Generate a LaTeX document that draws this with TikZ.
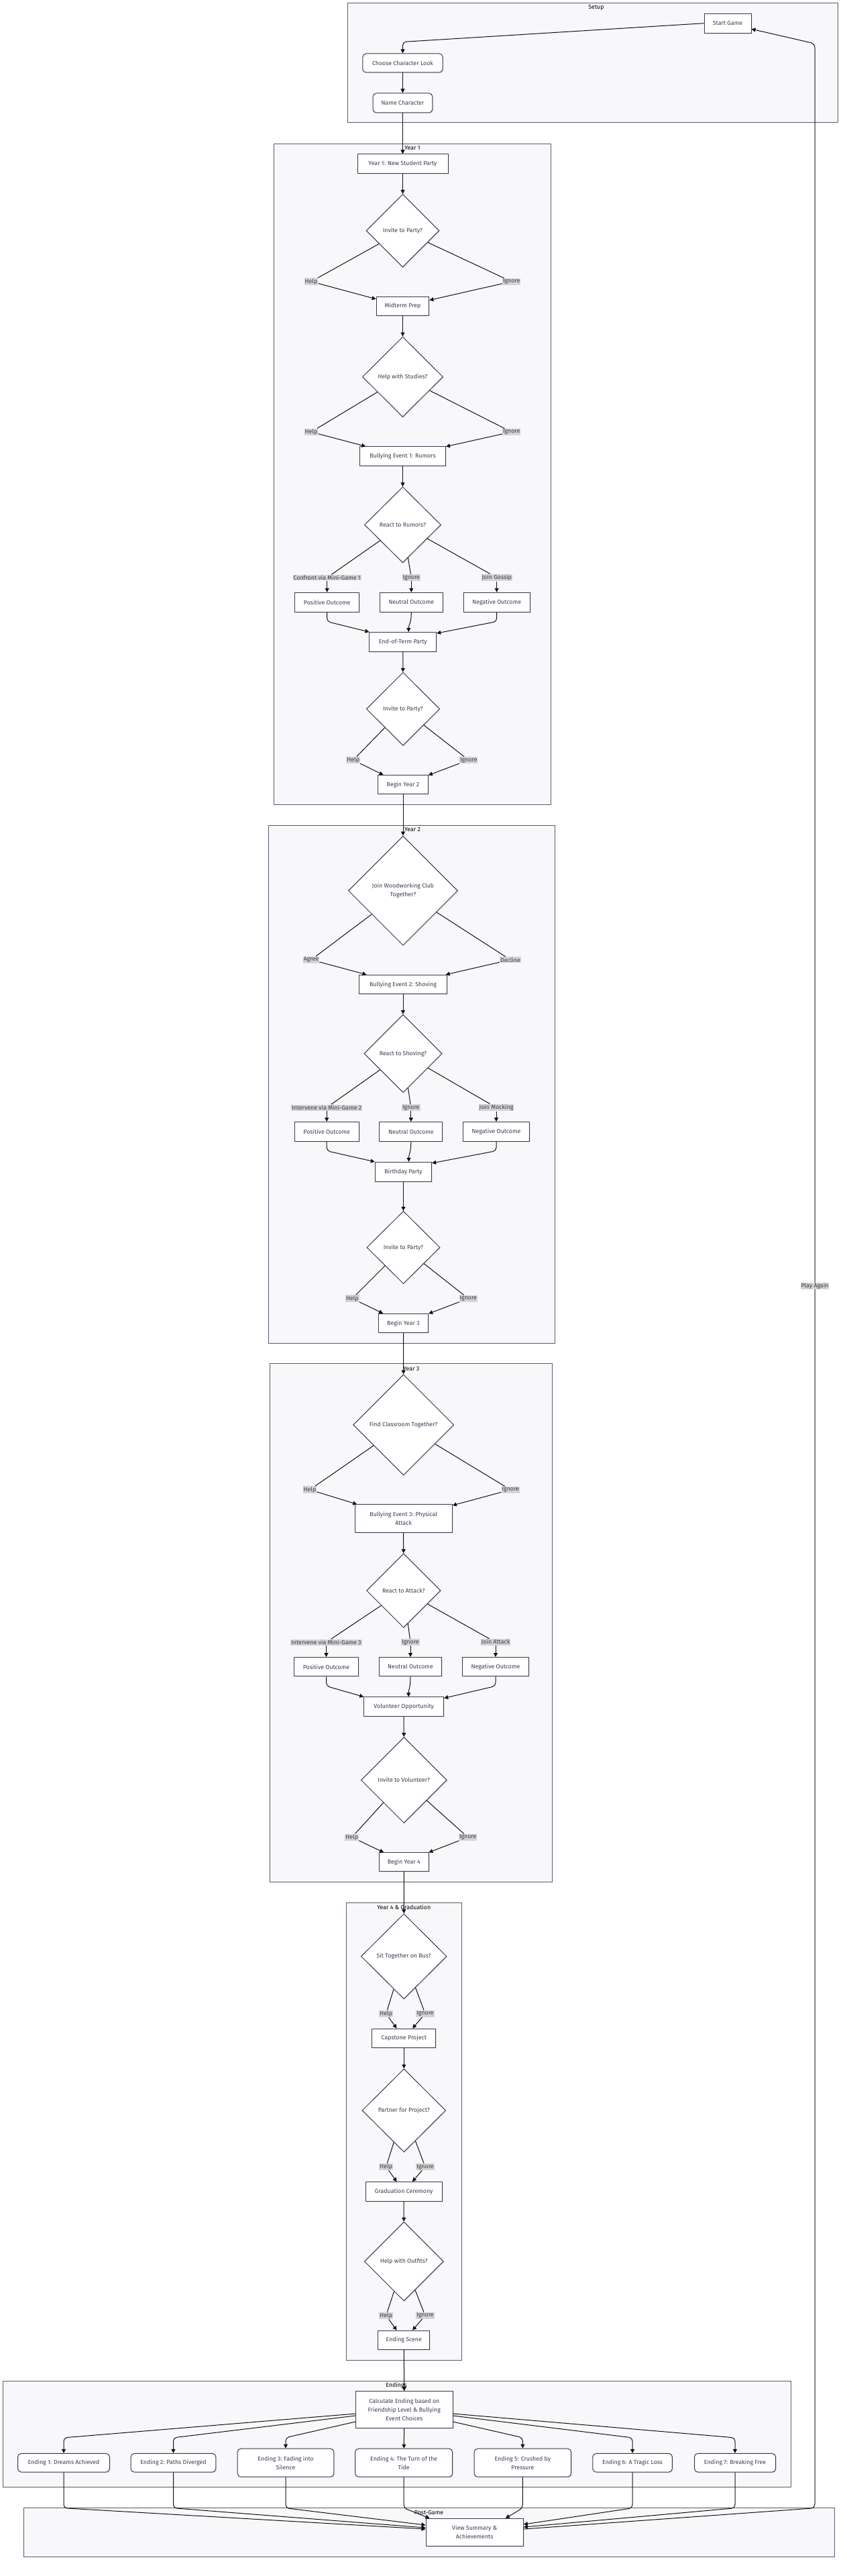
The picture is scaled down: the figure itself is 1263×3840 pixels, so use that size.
\documentclass[tikz,border=0pt]{standalone}
\usepackage{fontspec}
\setmainfont{Fira Sans}
\usetikzlibrary{shapes.geometric,arrows.meta,shadows}
\definecolor{grpfill}{HTML}{F8F8FA}
\definecolor{grpline}{HTML}{5A5A6E}
\definecolor{nline}{HTML}{3A3A4E}
\definecolor{ntext}{HTML}{3A3A4E}
\definecolor{lblbg}{HTML}{D4D4D4}
\definecolor{edgec}{HTML}{111111}
\newcommand\nfnt{\fontsize{8.8}{13}\selectfont}
\tikzset{
 box/.style={draw=nline, fill=white, line width=1pt, text=ntext, font=\nfnt, inner sep=0pt, align=center,
   drop shadow={shadow xshift=1.5pt, shadow yshift=-1.5pt, fill=black, opacity=0.07}},
 rbox/.style={box, rounded corners=5pt},
 dia/.style={box, diamond},
 wh/.style 2 args={minimum width=#1pt, minimum height=#2pt},
 lbl/.style={fill=lblbg, text=ntext, font=\nfnt, inner sep=1pt},
 grp/.style={draw=grpline, fill=grpfill, line width=1pt},
 gtitle/.style={font=\nfnt, text=black, inner sep=0pt},
 edge/.style={draw=edgec, line width=1pt, -{Triangle[length=6pt,width=6pt]}},
 link/.style={draw=edgec, line width=1pt},
}
\begin{document}
\begin{tikzpicture}[x=1pt,y=-1pt]
\useasboundingbox (0,0) rectangle (1263,3840);
% ---------- groups ----------
\draw[grp] (518.5,4.3) rectangle (1249.4,183);
\node[gtitle] (tsetup) at (889,11) {Setup};
\draw[grp] (408,214.5) rectangle (821.3,1199);
\node[gtitle] (ty1) at (615,220.7) {Year 1};
\draw[grp] (400.7,1230.7) rectangle (827.3,2002);
\node[gtitle] (ty2) at (615,1237) {Year 2};
\draw[grp] (402.7,2032.7) rectangle (823.7,2805);
\node[gtitle] (ty3) at (613.3,2040) {Year 3};
\draw[grp] (516.7,2836.6) rectangle (688.5,3518.3);
\node[gtitle] (ty4) at (602.3,2843) {Year 4 \& Graduation};
\draw[grp] (4.5,3549) rectangle (1179,3707.7);
\node[gtitle] (tend) at (591,3556) {Endings};
\draw[grp] (35,3738.7) rectangle (1244.4,3811);
\node[gtitle] (tpost) at (639.5,3745.3) {Post-Game};
\coordinate (pgtop) at (0,3738.7);
\coordinate (rb) at (1215,3738.7);
\coordinate (rt) at (1215,65);
% ---------- setup ----------
\node[box, wh={70}{28.7}] (start) at (1085,34.7) {Start Game};
\node[rbox, wh={119.2}{28}] (choose) at (600.5,94) {Choose Character Look};
\node[rbox, wh={88.6}{29}] (namec) at (600.5,153.5) {Name Character};
% ---------- year 1 ----------
\node[box, wh={135}{28.2}] (y1party) at (600.5,244.1) {Year 1: New Student Party};
\node[dia, wh={109}{108.8}] (y1d1) at (600.5,343.9) {Invite to Party?};
\node[lbl] (l1a) at (464,419.7) {Help};
\node[lbl] (l1b) at (762.7,419.7) {Ignore};
\node[box, wh={78.7}{28.3}] (midterm) at (600.5,456.5) {Midterm Prep};
\node[dia, wh={120}{119.5}] (y1d2) at (600.5,561.8) {Help with Studies?};
\node[lbl] (l2a) at (464,643.9) {Help};
\node[lbl] (l2b) at (762.7,643.9) {Ignore};
\node[box, wh={128}{28.2}] (bully1) at (600.5,680) {Bullying Event 1: Rumors};
\node[dia, wh={114}{113}] (y1d3) at (600.5,782.3) {React to Rumors?};
\node[lbl] (l3a) at (487.7,861) {Confront via Mini-Game 1};
\node[lbl] (l3b) at (613.3,861) {Ignore};
\node[lbl] (l3c) at (740.7,861) {Join Gossip};
\node[box, wh={96.3}{28.7}] (y1pos) at (487.7,897.7) {Positive Outcome};
\node[box, wh={93.7}{28.7}] (y1neu) at (613.3,897.7) {Neutral Outcome};
\node[box, wh={99.3}{28.7}] (y1neg) at (740.7,897.7) {Negative Outcome};
\node[box, wh={99.7}{29}] (eot) at (600.8,957) {End-of-Term Party};
\node[dia, wh={109.3}{109}] (y1d4) at (601,1056.8) {Invite to Party?};
\node[lbl] (l4a) at (526.7,1133) {Help};
\node[lbl] (l4b) at (698.7,1133) {Ignore};
\node[box, wh={74.7}{28}] (by2) at (601,1169.7) {Begin Year 2};
% ---------- year 2 ----------
\node[dia, wh={163}{163}] (y2d1) at (601,1327.7) {Join Woodworking Club\\Together?};
\node[lbl] (l5a) at (464,1430.7) {Agree};
\node[lbl] (l5b) at (761,1430.7) {Decline};
\node[box, wh={131.3}{28.3}] (bully2) at (601,1467.5) {Bullying Event 2: Shoving};
\node[dia, wh={116.3}{116.3}] (y2d2) at (601,1570.5) {React to Shoving?};
\node[lbl] (l6a) at (487.2,1651) {Intervene via Mini-Game 2};
\node[lbl] (l6b) at (612.8,1651) {Ignore};
\node[lbl] (l6c) at (740,1651) {Join Mocking};
\node[box, wh={96.3}{28.5}] (y2pos) at (487.2,1686.8) {Positive Outcome};
\node[box, wh={93.7}{28.5}] (y2neu) at (612.8,1686.8) {Neutral Outcome};
\node[box, wh={99.4}{28.5}] (y2neg) at (740,1686.8) {Negative Outcome};
\node[box, wh={84.3}{28.7}] (bday) at (601.5,1746.7) {Birthday Party};
\node[dia, wh={109}{108.3}] (y2d3) at (601.5,1859.5) {Invite to Party?};
\node[lbl] (l7a) at (525.3,1935.7) {Help};
\node[lbl] (l7b) at (698.3,1935.7) {Ignore};
\node[box, wh={74.3}{28.3}] (by3) at (601.5,1972.5) {Begin Year 3};
% ---------- year 3 ----------
\node[dia, wh={150}{150}] (y3d1) at (601.7,2124) {Find Classroom Together?};
\node[lbl] (l8a) at (462,2220.7) {Help};
\node[lbl] (l8b) at (761.3,2220.7) {Ignore};
\node[box, wh={145.3}{41.7}] (bully3) at (601.7,2263.7) {Bullying Event 3: Physical\\Attack};
\node[dia, wh={110.5}{110.5}] (y3d2) at (601.8,2371) {React to Attack?};
\node[lbl] (l9a) at (486.5,2448) {Intervene via Mini-Game 3};
\node[lbl] (l9b) at (612,2448) {Ignore};
\node[lbl] (l9c) at (739,2448) {Join Attack};
\node[box, wh={96.4}{28.3}] (y3pos) at (486.5,2484.7) {Positive Outcome};
\node[box, wh={93.4}{28.3}] (y3neu) at (612,2484.7) {Neutral Outcome};
\node[box, wh={99.4}{28.3}] (y3neg) at (739,2484.7) {Negative Outcome};
\node[box, wh={119}{28.7}] (volunteer) at (602.2,2544.2) {Volunteer Opportunity};
\node[dia, wh={128}{128}] (y3d3) at (602.3,2653.5) {Invite to Volunteer?};
\node[lbl] (l10a) at (524.7,2738.8) {Help};
\node[lbl] (l10b) at (697.7,2738.8) {Ignore};
\node[box, wh={74}{27.6}] (by4) at (602.3,2775.6) {Begin Year 4};
% ---------- year 4 ----------
\node[dia, wh={127.7}{127}] (y4d1) at (602.2,2916.3) {Sit Together on Bus?};
\node[lbl] (l11a) at (575.7,3001.8) {Help};
\node[lbl] (l11b) at (634,3001.8) {Ignore};
\node[box, wh={94.7}{28.6}] (capstone) at (602.3,3038.4) {Capstone Project};
\node[dia, wh={124.7}{124}] (y4d2) at (602.3,3146) {Partner for Project?};
\node[lbl] (l12a) at (575.7,3229.9) {Help};
\node[lbl] (l12b) at (634,3229.9) {Ignore};
\node[box, wh={113.7}{28.6}] (gradc) at (602.2,3267) {Graduation Ceremony};
\node[dia, wh={118}{118}] (y4d3) at (602.3,3371) {Help with Outfits?};
\node[lbl] (l13a) at (575.7,3451.8) {Help};
\node[lbl] (l13b) at (634,3451.8) {Ignore};
\node[box, wh={77.3}{28.6}] (endscene) at (602.3,3488.4) {Ending Scene};
% ---------- endings ----------
\node[box, wh={144.4}{54.6}] (calc) at (602.8,3592) {Calculate Ending based on\\Friendship Level \& Bullying\\Event Choices};
\node[rbox, wh={136.6}{27.7}] (e1) at (95,3671.2) {Ending 1: Dreams Achieved};
\node[rbox, wh={126.6}{27.7}] (e2) at (258.5,3671.2) {Ending 2: Paths Diverged};
\node[rbox, wh={143.6}{42}] (e3) at (426,3671.2) {Ending 3: Fading into\\Silence};
\node[rbox, wh={145}{42}] (e4) at (602.2,3671.2) {Ending 4: The Turn of the\\Tide};
\node[rbox, wh={144.4}{42}] (e5) at (779.4,3671.2) {Ending 5: Crushed by\\Pressure};
\node[rbox, wh={118.5}{27.7}] (e6) at (943.1,3671.2) {Ending 6: A Tragic Loss};
\node[rbox, wh={121}{27.7}] (e7) at (1096,3671.2) {Ending 7: Breaking Free};
% ---------- post-game ----------
\node[box, wh={145.3}{41.4}] (summary) at (707.7,3775) {View Summary \&\\Achievements};
% ---------- edges: setup ----------
\draw[edge, rounded corners=5pt] (start.west) -- ([yshift=17pt]choose.north) -- (choose.north);
\draw[edge] (choose) -- (namec);
\draw[edge] (namec) -- (y1party);
% ---------- edges: year 1 ----------
\draw[edge] (y1party) -- (y1d1);
\draw[link] (y1d1) -- (l1a); \draw[edge] (l1a) -- (midterm);
\draw[link] (y1d1) -- (l1b); \draw[edge] (l1b) -- (midterm);
\draw[edge] (midterm) -- (y1d2);
\draw[link] (y1d2) -- (l2a); \draw[edge] (l2a) -- (bully1);
\draw[link] (y1d2) -- (l2b); \draw[edge] (l2b) -- (bully1);
\draw[edge] (bully1) -- (y1d3);
\draw[link] (y1d3) -- (l3a); \draw[edge] (l3a) -- (y1pos);
\draw[link] (y1d3) -- (l3b); \draw[edge] (l3b) -- (y1neu);
\draw[link] (y1d3) -- (l3c); \draw[edge] (l3c) -- (y1neg);
\draw[edge, rounded corners=5pt] (y1pos.south) -- ++(0,14) -- (eot.north west);
\draw[edge, rounded corners=5pt] (y1neg.south) -- ++(0,14) -- ([yshift=-2pt]eot.north east);
\draw[edge] (y1neu.south) .. controls +(0,18) and +(0,-12) .. ([xshift=8.5pt]eot.north);
\draw[edge] (eot) -- (y1d4);
\draw[link] (y1d4) -- (l4a); \draw[edge] (l4a) -- (by2);
\draw[link] (y1d4) -- (l4b); \draw[edge] (l4b) -- (by2);
\draw[edge] (by2) -- (y2d1);
% ---------- edges: year 2 ----------
\draw[link] (y2d1) -- (l5a); \draw[edge] (l5a) -- (bully2);
\draw[link] (y2d1) -- (l5b); \draw[edge] (l5b) -- (bully2);
\draw[edge] (bully2) -- (y2d2);
\draw[link] (y2d2) -- (l6a); \draw[edge] (l6a) -- (y2pos);
\draw[link] (y2d2) -- (l6b); \draw[edge] (l6b) -- (y2neu);
\draw[link] (y2d2) -- (l6c); \draw[edge] (l6c) -- (y2neg);
\draw[edge, rounded corners=5pt] (y2pos.south) -- ++(0,14) -- (bday.north west);
\draw[edge, rounded corners=5pt] (y2neg.south) -- ++(0,14) -- ([yshift=-2pt]bday.north east);
\draw[edge] (y2neu.south) .. controls +(0,18) and +(0,-12) .. ([xshift=8pt]bday.north);
\draw[edge] (bday) -- (y2d3);
\draw[link] (y2d3) -- (l7a); \draw[edge] (l7a) -- (by3);
\draw[link] (y2d3) -- (l7b); \draw[edge] (l7b) -- (by3);
\draw[edge] (by3) -- (y3d1);
% ---------- edges: year 3 ----------
\draw[link] (y3d1) -- (l8a); \draw[edge] (l8a) -- (bully3);
\draw[link] (y3d1) -- (l8b); \draw[edge] (l8b) -- (bully3);
\draw[edge] (bully3) -- (y3d2);
\draw[link] (y3d2) -- (l9a); \draw[edge] (l9a) -- (y3pos);
\draw[link] (y3d2) -- (l9b); \draw[edge] (l9b) -- (y3neu);
\draw[link] (y3d2) -- (l9c); \draw[edge] (l9c) -- (y3neg);
\draw[edge, rounded corners=5pt] (y3pos.south) -- ++(0,14) -- (volunteer.north west);
\draw[edge, rounded corners=5pt] (y3neg.south) -- ++(0,14) -- ([yshift=-2pt]volunteer.north east);
\draw[edge] (y3neu.south) .. controls +(0,18) and +(0,-12) .. ([xshift=7pt]volunteer.north);
\draw[edge] (volunteer) -- (y3d3);
\draw[link] (y3d3) -- (l10a); \draw[edge] (l10a) -- (by4);
\draw[link] (y3d3) -- (l10b); \draw[edge] (l10b) -- (by4);
\draw[edge] (by4) -- (y4d1);
% ---------- edges: year 4 ----------
\draw[link] (y4d1) -- (l11a); \draw[edge] (l11a) -- (capstone);
\draw[link] (y4d1) -- (l11b); \draw[edge] (l11b) -- (capstone);
\draw[edge] (capstone) -- (y4d2);
\draw[link] (y4d2) -- (l12a); \draw[edge] (l12a) -- (gradc);
\draw[link] (y4d2) -- (l12b); \draw[edge] (l12b) -- (gradc);
\draw[edge] (gradc) -- (y4d3);
\draw[link] (y4d3) -- (l13a); \draw[edge] (l13a) -- (endscene);
\draw[link] (y4d3) -- (l13b); \draw[edge] (l13b) -- (endscene);
\draw[edge] (endscene) -- (calc);
% ---------- edges: endings ----------
\draw[edge, rounded corners=5pt] ([yshift=-6pt]calc.west) -- ([yshift=23pt]e1.north) -- (e1.north);
\draw[edge, rounded corners=5pt] ([yshift=-9pt]calc.west) -- ([yshift=23pt]e2.north) -- (e2.north);
\draw[edge, rounded corners=5pt] ([yshift=-18pt]calc.west) -- ([yshift=16pt]e3.north) -- (e3.north);
\draw[edge] (calc) -- (e4);
\draw[edge, rounded corners=5pt] ([yshift=-18pt]calc.east) -- ([yshift=16pt]e5.north) -- (e5.north);
\draw[edge, rounded corners=5pt] ([yshift=-9pt]calc.east) -- ([yshift=23pt]e6.north) -- (e6.north);
\draw[edge, rounded corners=5pt] ([yshift=-6pt]calc.east) -- ([yshift=23pt]e7.north) -- (e7.north);
% ---------- edges: to post-game ----------
\draw[edge, rounded corners=5pt] (e1.south) -- (e1.south |- pgtop) -- ([yshift=5pt]summary.west);
\draw[edge, rounded corners=5pt] (e2.south) -- (e2.south |- pgtop) -- ([yshift=7pt]summary.west);
\draw[edge, rounded corners=5pt] (e3.south) -- (e3.south |- pgtop) -- ([yshift=11pt]summary.west);
\draw[edge, rounded corners=5pt] (e4.south) -- (e4.south |- pgtop) -- ([xshift=6pt]summary.north west);
\draw[edge, rounded corners=5pt] (e5.south) -- (e5.south |- pgtop) -- ([xshift=-27pt]summary.north east);
\draw[edge, rounded corners=5pt] (e6.south) -- (e6.south |- pgtop) -- ([yshift=12pt]summary.east);
\draw[edge, rounded corners=5pt] (e7.south) -- (e7.south |- pgtop) -- ([yshift=8pt]summary.east);
\draw[edge, rounded corners=6pt] ([yshift=5pt]summary.east) -- (rb) -- (rt) -- ([yshift=-8.6pt]start.east);
\node[lbl] (lplay) at (1215,1917) {Play Again};
\end{tikzpicture}
\end{document}
